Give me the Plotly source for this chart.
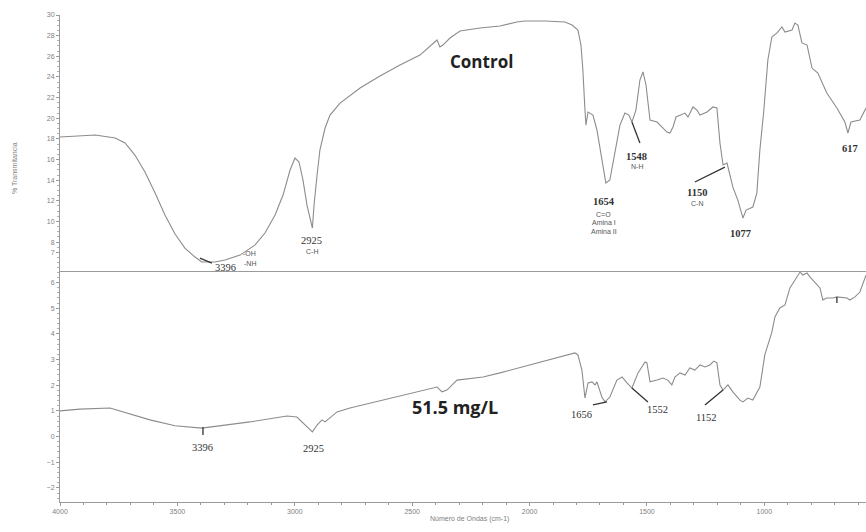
import plotly.graph_objects as go
from plotly.subplots import make_subplots

# ---- Data: Control spectrum (wavenumber cm-1, %T) ----
ctrl_wn = [4000, 3935, 3850, 3765, 3723, 3681, 3638, 3595, 3553, 3510, 3468, 3425, 3396, 3340,
           3297, 3233, 3170, 3127, 3084, 3050, 3020, 2999, 2982, 2965, 2948, 2925, 2918, 2905,
           2893, 2871, 2850, 2807, 2722, 2637, 2552, 2467, 2394, 2382, 2369, 2339, 2296, 2211,
           2126, 2054, 2020, 1934, 1849, 1819, 1794, 1781, 1773, 1764, 1760, 1751, 1730, 1713,
           1692, 1675, 1658, 1636, 1615, 1594, 1577, 1564, 1547, 1530, 1517, 1504, 1487, 1457,
           1436, 1415, 1402, 1389, 1376, 1359, 1338, 1325, 1304, 1287, 1274, 1244, 1219, 1202,
           1189, 1176, 1159, 1134, 1113, 1091, 1078, 1049, 1032, 1019, 1002, 985, 968, 946, 925,
           912, 882, 870, 857, 840, 818, 797, 772, 734, 691, 657, 644, 631, 593, 567]
ctrl_t = [18.18, 18.28, 18.37, 18.08, 17.60, 16.43, 14.79, 12.75, 10.62, 8.78, 7.42, 6.55, 6.07, 6.07,
          6.26, 6.74, 7.71, 8.88, 10.62, 12.56, 14.98, 16.14, 15.76, 14.01, 11.59, 9.36, 11.59, 14.50,
          16.92, 19.05, 20.31, 21.47, 22.93, 24.09, 25.16, 26.12, 27.58, 26.90, 27.09, 27.77, 28.45, 28.74,
          28.93, 29.32, 29.42, 29.42, 29.32, 29.03, 28.55, 27.09, 24.67, 20.79, 19.34, 20.60, 20.31, 18.86,
          15.95, 13.72, 14.01, 16.92, 19.34, 20.50, 20.31, 19.63, 20.79, 23.70, 24.48, 23.22, 19.83, 19.63,
          19.15, 18.66, 18.57, 19.15, 20.12, 20.31, 20.50, 20.12, 21.09, 20.79, 20.31, 20.60, 21.09, 20.99,
          17.60, 15.47, 15.66, 13.33, 12.07, 10.33, 11.10, 11.40, 12.75, 16.92, 20.79, 25.64, 27.87, 28.26, 28.84,
          28.35, 28.55, 29.22, 29.03, 27.29, 27.09, 24.86, 24.38, 22.44, 20.99, 19.63, 18.57, 19.63, 19.83, 20.99]

# ---- Data: 51.5 mg/L spectrum ----
trt_wn = [4000, 3915, 3787, 3617, 3510, 3396, 3191, 3033, 2991, 2948, 2925, 2905, 2884, 2871, 2850,
          2820, 2765, 2624, 2394, 2373, 2352, 2309, 2198, 2126, 1956, 1870, 1807, 1794, 1777, 1764,
          1751, 1734, 1721, 1713, 1692, 1679, 1658, 1628, 1606, 1585, 1564, 1538, 1508, 1500, 1487,
          1457, 1432, 1411, 1394, 1381, 1359, 1338, 1317, 1296, 1274, 1253, 1232, 1215, 1202, 1189,
          1176, 1155, 1134, 1104, 1091, 1070, 1049, 1019, 998, 968, 955, 934, 912, 891, 870, 848,
          836, 818, 806, 776, 763, 751, 734, 708, 691, 648, 636, 614, 593, 567]
trt_t = [1.00, 1.07, 1.11, 0.65, 0.42, 0.33, 0.57, 0.80, 0.76, 0.37, 0.18, 0.45, 0.65, 0.57, 0.72,
         0.96, 1.11, 1.42, 1.93, 1.74, 1.81, 2.20, 2.32, 2.48, 2.91, 3.10, 3.26, 3.18, 2.59, 1.50,
         2.09, 2.13, 2.01, 2.13, 1.54, 1.35, 1.54, 2.20, 2.32, 2.09, 1.89, 2.48, 2.91, 2.87, 2.13,
         2.20, 2.28, 2.20, 2.01, 2.32, 2.48, 2.40, 2.67, 2.59, 2.79, 2.71, 2.79, 2.94, 2.87, 2.01,
         1.81, 2.01, 1.74, 1.42, 1.35, 1.50, 1.42, 1.93, 3.18, 4.07, 4.66, 5.01, 5.13, 5.79, 6.10, 6.41,
         6.29, 6.37, 6.22, 5.90, 5.79, 5.32, 5.40, 5.40, 5.44, 5.40, 5.32, 5.44, 5.63, 6.29]

top_ticks = [7, 8, 10, 12, 14, 16, 18, 20, 22, 24, 26, 28, 30]
bot_ticks = [-2, -1, 0, 1, 2, 3, 4, 5, 6]
x_ticks = [4000, 3500, 3000, 2500, 2000, 1500, 1000, 500]

LINE = "#8c8c8c"
AX = "#9a9a9a"
TXT = "#333333"

fig = make_subplots(rows=2, cols=1, shared_xaxes=True, vertical_spacing=0,
                    row_heights=[256, 231])

fig.add_trace(go.Scatter(x=ctrl_wn, y=ctrl_t, mode="lines",
                         line=dict(color=LINE, width=1.1), hoverinfo="skip"), row=1, col=1)
fig.add_trace(go.Scatter(x=trt_wn, y=trt_t, mode="lines",
                         line=dict(color=LINE, width=1.1), hoverinfo="skip"), row=2, col=1)

tickfont = dict(family="Liberation Sans, Arial", size=7, color="#808080")
common_x = dict(range=[4000, 567], showgrid=False, zeroline=False, showline=True,
                linecolor=AX, linewidth=1, tickvals=x_ticks, ticks="outside",
                ticklen=3, tickcolor=AX, tickfont=tickfont,
                minor=dict(dtick=100, ticks="outside", ticklen=2, tickcolor=AX))
fig.update_xaxes(**common_x)
fig.update_xaxes(showticklabels=False, ticks="", minor=dict(ticks=""), row=1, col=1)

common_y = dict(showgrid=False, zeroline=False, showline=True, linecolor=AX, linewidth=1,
                ticks="outside", ticklen=3, tickcolor=AX, tickfont=tickfont)
fig.update_yaxes(range=[5.2, 30.0], tickvals=top_ticks,
                 minor=dict(dtick=0.5, ticks="outside", ticklen=2, tickcolor="#b0b0b0"),
                 **common_y, row=1, col=1)
fig.update_yaxes(range=[-2.55, 6.45], tickvals=bot_ticks,
                 minor=dict(dtick=0.2, ticks="outside", ticklen=2, tickcolor="#b0b0b0"),
                 **common_y, row=2, col=1)

num_font = dict(family="Liberation Serif, DejaVu Serif", size=10.5, color=TXT)
small_font = dict(family="Liberation Sans, Arial", size=7, color="#555555")

top_labels = [
    ("Control", 2203, 25.45, dict(family="Open Sans, Noto Sans", size=17, color="#222222"), True),
    ("1654", 1683, 11.98, num_font, True),
    ("C=O", 1683, 10.72, small_font, False),
    ("Amina I", 1683, 9.90, small_font, False),
    ("Amina II", 1683, 9.02, small_font, False),
    ("1548", 1543, 16.34, num_font, True),
    ("N-H", 1543, 15.37, small_font, False),
    ("1150", 1287, 12.85, num_font, True),
    ("C-N", 1287, 11.78, small_font, False),
    ("1077", 1100, 8.88, num_font, True),
    ("617", 635, 17.11, num_font, True),
    ("2925", 2927, 8.20, num_font, False),
    ("C-H", 2927, 7.13, small_font, False),
    ("3396", 3297, 5.55, num_font, False),
    ("-OH", 3191, 6.94, small_font, False),
    ("-NH", 3191, 5.97, small_font, False),
]
for txt, x, y, f, bold in top_labels:
    fig.add_annotation(x=x, y=y, xref="x", yref="y", text=f"<b>{txt}</b>" if bold else txt,
                       showarrow=False, font=f)

bot_labels = [
    ("51.5 mg/L", 2318, 1.15, dict(family="Open Sans, Noto Sans", size=18, color="#222222"), True),
    ("3396", 3391, -0.41, num_font, False),
    ("2925", 2922, -0.45, num_font, False),
    ("1656", 1777, 0.84, num_font, False),
    ("1552", 1457, 1.07, num_font, False),
    ("1152", 1245, 0.76, num_font, False),
]
for txt, x, y, f, bold in bot_labels:
    fig.add_annotation(x=x, y=y, xref="x2", yref="y2", text=f"<b>{txt}</b>" if bold else txt,
                       showarrow=False, font=f)

# leader lines
top_leaders = [(3404, 6.45, 3353, 5.97), (1564, 19.63, 1530, 17.60), (1296, 13.82, 1168, 15.27)]
for x0, y0, x1, y1 in top_leaders:
    fig.add_shape(type="line", x0=x0, y0=y0, x1=x1, y1=y1, xref="x", yref="y",
                  line=dict(color="#333333", width=1.3))
bot_leaders = [(3391, 0.37, 3391, 0.06), (1730, 1.23, 1670, 1.35), (1564, 1.89, 1496, 1.35),
               (1253, 1.23, 1176, 1.81), (691, 5.44, 691, 5.20)]
for x0, y0, x1, y1 in bot_leaders:
    fig.add_shape(type="line", x0=x0, y0=y0, x1=x1, y1=y1, xref="x2", yref="y2",
                  line=dict(color="#333333", width=1.3))

fig.add_annotation(x=-0.064, y=0.743, xref="paper", yref="paper", text="% Transmitancia",
                   textangle=-90, showarrow=False,
                   font=dict(family="Liberation Sans, Arial", size=7, color="#808080"))
fig.add_annotation(x=0.508, y=-0.047, xref="paper", yref="paper", text="Número de Ondas (cm-1)",
                   showarrow=False, font=dict(family="Liberation Sans, Arial", size=7, color="#808080"))

fig.update_layout(width=866, height=532, margin=dict(l=60, r=0, t=15, b=30),
                  paper_bgcolor="white", plot_bgcolor="white", showlegend=False)

fig.write_html("out.html", config={"displayModeBar": False},
               post_script="document.body.style.margin='0';document.body.style.overflow='hidden';")
